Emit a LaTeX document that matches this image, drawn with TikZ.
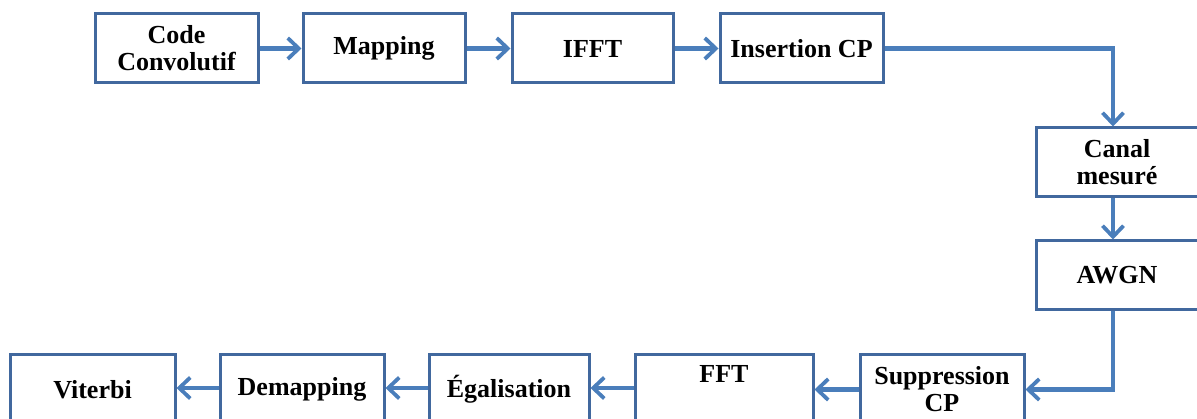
\documentclass[tikz,border=0pt]{standalone}
\usepackage{fontspec}
\setmainfont{Liberation Serif}
\usetikzlibrary{arrows.meta}
\definecolor{boxc}{HTML}{41689E}
\definecolor{linec}{HTML}{4A7EBB}
\tikzset{
  lbl/.style={font=\fontsize{26}{27}\selectfont\bfseries},
  blk/.style={draw=boxc, line width=3pt, minimum width=#1, minimum height=69pt, inner sep=0pt, align=center, lbl},
  blk/.default=163pt,
  conn/.style={draw=linec, line width=4.2pt, -{Straight Barb[length=11pt,width=21pt,line width=3.8pt]}},
}
\begin{document}
\begin{tikzpicture}[x=1pt,y=-1pt]
\useasboundingbox (0,0) rectangle (1197,419);
\clip (0,0) rectangle (1197,419);
% top row
\node[blk=163pt] (cc) at (176.5,48.5) {Code\\Convolutif};
\node[blk=162pt] (map) at (384,48.5) {Mapping};
\node[blk=161pt] (ifft) at (592.5,48.5) {IFFT};
\node[blk=163pt] (ins) at (801.5,48.5) {Insertion CP};
% right column
\node[blk=162pt] (can) at (1117,162.5) {Canal\\mesur\'e};
\node[blk=162pt] (awgn) at (1117,275.5) {AWGN};
% bottom row
\node[blk=164pt] (sup) at (942,389.5) {Suppression\\CP};
\node[blk=178pt] (fft) at (724,389.5) {};
\node[lbl] (fftt) at (724,374) {FFT};
\node[blk=160pt] (ega) at (509,389.5) {\'Egalisation};
\node[blk=164pt] (dem) at (302,389.5) {Demapping};
\node[blk=165pt] (vit) at (92.5,389.5) {Viterbi};
% connectors
\draw[conn] (cc) -- (map);
\draw[conn] (map) -- (ifft);
\draw[conn] (ifft) -- (ins);
\coordinate (c1) at (1113,127);
\draw[conn] (ins.east) -| (can.north -| c1);
\draw[conn] (can.south -| c1) -- (awgn.north -| c1);
\draw[conn] (awgn.south -| c1) |- (sup.east);
\draw[conn] (sup) -- (fft);
\coordinate (r) at (0,388);
\draw[conn] (fft.west |- r) -- (ega.east |- r);
\draw[conn] (ega.west |- r) -- (dem.east |- r);
\draw[conn] (dem.west |- r) -- (vit.east |- r);
\end{tikzpicture}
\end{document}
